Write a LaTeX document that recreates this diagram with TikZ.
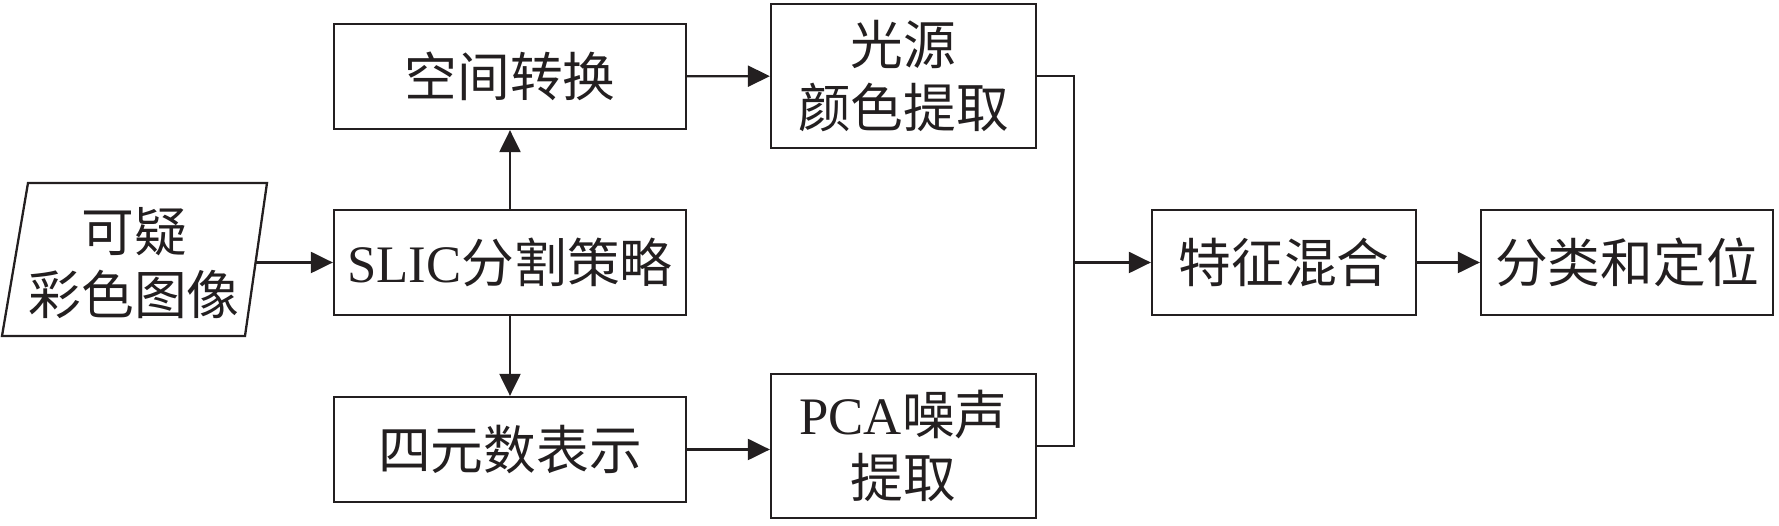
\documentclass[tikz,border=0pt]{standalone}
\usepackage{fontspec}
\setmainfont{Liberation Serif}
\newfontfamily\cjk{Noto Sans CJK SC}
\usetikzlibrary{arrows.meta}
\definecolor{ink}{HTML}{231F20}
\tikzset{
  procbox/.style={draw=ink, line width=1.3pt, minimum height=2.1cm, inner sep=0pt, align=center},
  wire/.style={draw=ink, line width=1.3pt},
  flow/.style={wire, -{Triangle[length=4.4mm,width=4.2mm]}},
}

\begin{document}
\begin{tikzpicture}[font=\cjk\fontsize{30}{36}\selectfont, text=ink]
  \useasboundingbox (0,0) rectangle (35.58,-10.52);
  % input image
  \draw[wire] (0.56,-3.66) -- (5.34,-3.66) -- (4.9,-6.72) -- (0.04,-6.72) -- cycle;
  \node[align=center] (img) at (2.68,-5.26) {可疑\\彩色图像};
  \coordinate (imgR) at (5.1,-5.25);
  % left column
  \node[procbox, minimum width=7.04cm] (kj) at (10.2,-1.53) {空间转换};
  \node[procbox, minimum width=7.04cm] (slic) at (10.2,-5.25) {{\rmfamily SLIC}分割策略};
  \node[procbox, minimum width=7.04cm] (sys) at (10.2,-8.99) {四元数表示};
  % middle column
  \node[procbox, minimum width=5.3cm, minimum height=2.88cm] (gy) at (18.07,-1.52) {光源\\颜色提取};
  \node[procbox, minimum width=5.3cm, minimum height=2.88cm] (pca) at (18.07,-8.92) {{\rmfamily PCA}噪声\\提取};
  % right part
  \coordinate (jn) at (21.48,-5.25);
  \node[procbox, minimum width=5.28cm] (tz) at (25.68,-5.25) {特征混合};
  \node[procbox, minimum width=5.84cm] (fl) at (32.54,-5.25) {分类和定位};
  % connectors
  \draw[flow] (imgR) -- (slic);
  \draw[flow] (slic) -- (kj);
  \draw[flow] (slic) -- (sys);
  \draw[flow] (kj) -- (gy);
  \draw[flow] (sys.east) -- (sys.east -| pca.west);
  \draw[wire] (gy.east) -| (jn);
  \draw[wire] (pca.east) -| (jn);
  \draw[flow] (jn) -- (tz);
  \draw[flow] (tz) -- (fl);
\end{tikzpicture}
\end{document}
